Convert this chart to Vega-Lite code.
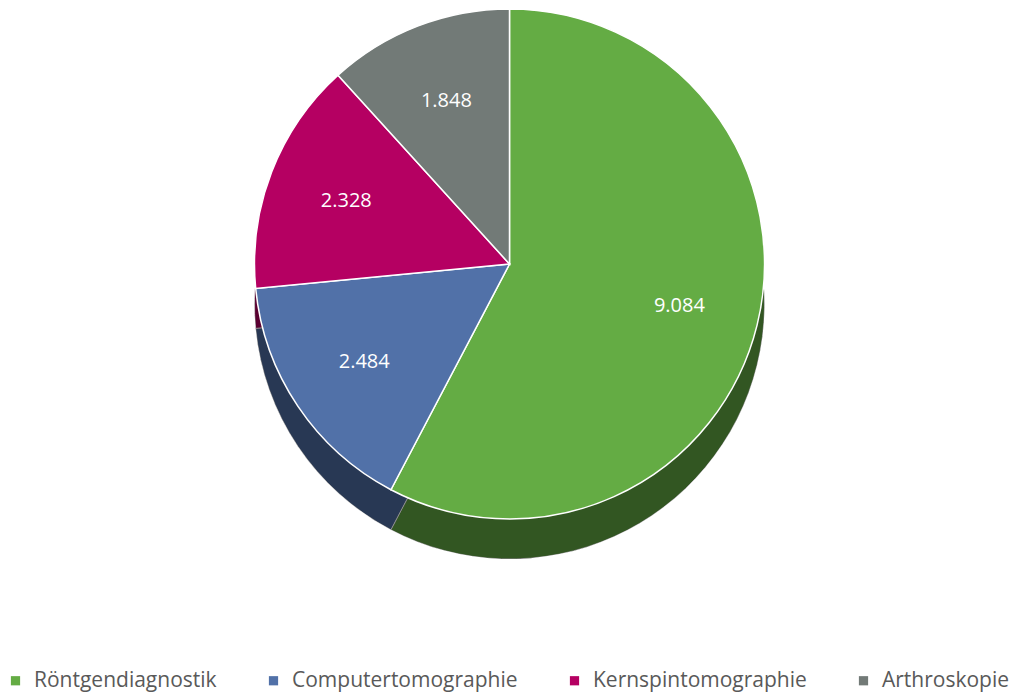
{
  "$schema": "https://vega.github.io/schema/vega-lite/v6.json",
  "width": 1019,
  "height": 697,
  "autosize": {"type": "fit", "contains": "padding"},
  "padding": {"top": 8, "bottom": 6, "left": 5, "right": 5},
  "background": "white",
  "data": {
    "values": [
      {"category": "Röntgendiagnostik", "value": 9084, "label": "9.084", "order": 1},
      {"category": "Computertomographie", "value": 2484, "label": "2.484", "order": 2},
      {"category": "Kernspintomographie", "value": 2328, "label": "2.328", "order": 3},
      {"category": "Arthroskopie", "value": 1848, "label": "1.848", "order": 4}
    ]
  },
  "encoding": {
    "theta": {"field": "value", "type": "quantitative", "stack": true},
    "order": {"field": "order", "type": "quantitative"},
    "color": {
      "field": "category",
      "type": "nominal",
      "sort": ["Röntgendiagnostik", "Computertomographie", "Kernspintomographie", "Arthroskopie"],
      "scale": {
        "domain": ["Röntgendiagnostik", "Computertomographie", "Kernspintomographie", "Arthroskopie"],
        "range": ["#64AC44", "#5171A8", "#B50062", "#727A77"]
      },
      "legend": {
        "title": null,
        "orient": "bottom",
        "direction": "horizontal",
        "symbolType": "square",
        "symbolSize": 85,
        "symbolStrokeWidth": 0,
        "labelFontSize": 21,
        "labelFont": "Open Sans",
        "labelColor": "#595959",
        "labelOffset": 8,
        "labelLimit": 0,
        "columnPadding": 46,
        "offset": 20
      }
    }
  },
  "layer": [
    {
      "mark": {"type": "arc", "outerRadius": 255, "yOffset": -25, "stroke": "#FFFFFF", "strokeWidth": 1}
    },
    {
      "mark": {"type": "arc", "outerRadius": 255, "yOffset": -25, "opacity": 0.5},
      "encoding": {"color": {"value": "#000000"}}
    },
    {
      "mark": {"type": "arc", "outerRadius": 255, "yOffset": -65, "stroke": "#FFFFFF", "strokeWidth": 1.5}
    },
    {
      "mark": {"type": "text", "radius": 175, "yOffset": -65, "font": "Open Sans", "fontSize": 20, "fill": "#FFFFFF"},
      "encoding": {"text": {"field": "label", "type": "nominal"}, "color": {"value": "#FFFFFF"}}
    }
  ],
  "config": {"view": {"stroke": null}}
}
